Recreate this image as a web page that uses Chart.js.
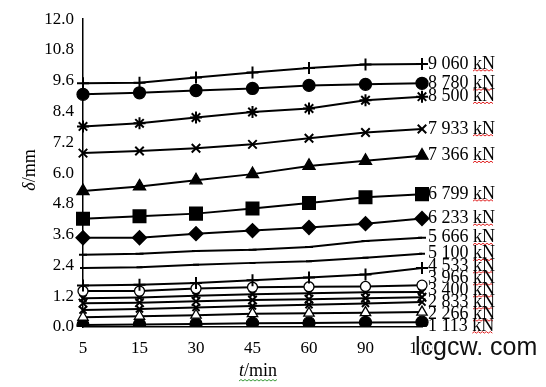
<!DOCTYPE html>
<html>
<head>
<meta charset="utf-8">
<script src="https://cdn.jsdelivr.net/npm/chart.js@4/dist/chart.umd.min.js"></script>
<style>
    html, body { margin: 0; padding: 0; background: #fff; }
    #wrap { width: 546px; height: 387px; position: relative; }
</style>
</head>
<body>
<div id="wrap"><canvas id="creepChart"></canvas></div>
<script>
const times = ['5', '15', '30', '45', '60', '90', '120'];
const yTicks = [0, 1.2, 2.4, 3.6, 4.8, 6.0, 7.2, 8.4, 9.6, 10.8, 12.0];

const d9060 = [9.5, 9.52, 9.73, 9.92, 10.1, 10.23, 10.25];
const d8780 = [9.07, 9.13, 9.22, 9.3, 9.42, 9.46, 9.5];
const d8500 = [7.82, 7.94, 8.17, 8.38, 8.52, 8.84, 8.98];
const d7933 = [6.78, 6.86, 6.97, 7.12, 7.36, 7.58, 7.72];
const d7366 = [5.3, 5.48, 5.72, 5.96, 6.28, 6.48, 6.68];
const d6799 = [4.22, 4.32, 4.42, 4.62, 4.83, 5.06, 5.18];
const d6233 = [3.48, 3.48, 3.64, 3.76, 3.88, 4.03, 4.23];
const d5666 = [2.82, 2.86, 2.96, 3.01, 3.12, 3.35, 3.48];
const d5100 = [2.3, 2.33, 2.43, 2.5, 2.56, 2.7, 2.86];
const d4533 = [1.62, 1.65, 1.72, 1.82, 1.93, 2.05, 2.3];
const d3966 = [1.4, 1.4, 1.5, 1.55, 1.57, 1.58, 1.63];
const d3400 = [1.12, 1.15, 1.22, 1.28, 1.32, 1.35, 1.36];
const d2833 = [0.93, 0.95, 1.0, 1.05, 1.08, 1.12, 1.16];
const dUnlabeled = [0.66, 0.7, 0.76, 0.82, 0.87, 0.92, 0.97];
const d2266 = [0.38, 0.42, 0.46, 0.52, 0.54, 0.56, 0.58];
const d1113 = [0.08, 0.1, 0.12, 0.15, 0.16, 0.18, 0.19];

const loads = ['9 060', '8 780', '8 500', '7 933', '7 366', '6 799', '6 233', '5 666',
    '5 100', '4 533', '3 966', '3 400', '2 833', '', '2 266', '1 113'];
const series = [d9060, d8780, d8500, d7933, d7366, d6799, d6233, d5666,
    d5100, d4533, d3966, d3400, d2833, dUnlabeled, d2266, d1113];

// marker per series: [pointStyle, radius, filled]
const markers = [
    ['cross', 6, true], ['circle', 6, true], ['star', 6, true], ['crossRot', 6, true],
    ['triangle', 7, true], ['rect', 8.5, true], ['rectRot', 6.5, true], ['line', 4, true],
    ['line', 3, true], ['cross', 6, true], ['circle', 5, false], ['crossRot', 5, true],
    ['crossRot', 6, true], ['crossRot', 5, true], ['triangle', 6, false], ['circle', 6, true]
];

const serif = '"Liberation Serif", "Times New Roman", serif';

const datasets = series.map((data, i) => ({
    label: loads[i],
    data: data,
    borderColor: '#000',
    borderWidth: 2,
    pointStyle: markers[i][0],
    pointRadius: markers[i][1],
    pointBorderWidth: markers[i][0] === 'circle' || markers[i][0] === 'triangle' ? 1.3 : 2,
    pointBackgroundColor: markers[i][2] ? '#000' : '#fff',
    pointBorderColor: '#000',
    tension: 0
}));

function wavy(ctx, x0, x1, y, color) {
    ctx.save();
    ctx.strokeStyle = color;
    ctx.lineWidth = 1;
    ctx.beginPath();
    let up = true;
    ctx.moveTo(x0, y);
    for (let x = x0 + 2; x <= x1; x += 2) {
        ctx.lineTo(x, up ? y - 1.5 : y);
        up = !up;
    }
    ctx.stroke();
    ctx.restore();
}

function spread(items, gap) {
    items.sort((a, b) => a.t - b.t);
    let groups = items.map(it => ({ items: [it], top: it.t }));
    let merged = true;
    while (merged) {
        merged = false;
        for (let i = 0; i < groups.length - 1; i++) {
            const a = groups[i], b = groups[i + 1];
            if (a.top + a.items.length * gap > b.top) {
                const all = a.items.concat(b.items);
                const mean = all.reduce((s, it) => s + it.t, 0) / all.length;
                groups.splice(i, 2, { items: all, top: mean - (all.length - 1) * gap / 2 });
                merged = true;
                break;
            }
        }
    }
    groups.forEach(g => g.items.forEach((it, k) => { it.y = g.top + k * gap; }));
}

function mixed(ctx, parts, cx, y, size) {
    // parts: [text, italic]
    const widths = parts.map(p => {
        ctx.font = (p[1] ? 'italic ' : '') + size + 'px ' + serif;
        return ctx.measureText(p[0]).width;
    });
    const total = widths.reduce((a, b) => a + b, 0);
    let x = cx - total / 2;
    parts.forEach((p, i) => {
        ctx.font = (p[1] ? 'italic ' : '') + size + 'px ' + serif;
        ctx.fillText(p[0], x, y);
        x += widths[i];
    });
    return total;
}

const endLabels = {
    id: 'endLabels',
    afterDatasetsDraw(chart) {
        const ctx = chart.ctx;
        const items = [];
        chart.data.datasets.forEach((ds, i) => {
            if (!ds.label) return;
            const pts = chart.getDatasetMeta(i).data;
            const last = pts[pts.length - 1];
            items.push({ t: last.y, text: ds.label });
        });
        spread(items, 12);
        const x = chart.chartArea.right + 6;
        ctx.save();
        ctx.font = '18px ' + serif;
        ctx.fillStyle = '#000';
        ctx.textBaseline = 'middle';
        ctx.textAlign = 'left';
        items.forEach(it => {
            const head = it.text + ' ';
            ctx.fillText(head + 'kN', x, it.y);
            const w1 = ctx.measureText(head).width;
            const w2 = ctx.measureText('kN').width;
            wavy(ctx, x + w1, x + w1 + w2, it.y + 7, '#e02020');
        });

        // axis titles
        const tw = mixed(ctx, [['t', true], ['/min', false]], 258, 371, 18);
        wavy(ctx, 258 - tw / 2, 258 + tw / 2, 381, '#3a9a3a');

        ctx.translate(30, 170);
        ctx.rotate(-Math.PI / 2);
        mixed(ctx, [['δ', true], ['/mm', false]], 0, 0, 18);
        ctx.restore();

        // site mark
        ctx.save();
        ctx.font = '25px "Liberation Sans", Arial, sans-serif';
        ctx.textBaseline = 'alphabetic';
        ctx.lineWidth = 3;
        ctx.strokeStyle = '#fff';
        ctx.strokeText('lcgcw. com', 415, 355);
        ctx.fillStyle = '#111';
        ctx.fillText('lcgcw. com', 415, 355);
        ctx.restore();
    }
};

new Chart(document.getElementById('creepChart'), {
    type: 'line',
    data: { labels: times, datasets: datasets },
    options: {
        responsive: true,
        maintainAspectRatio: false,
        animation: false,
        layout: { padding: { top: 15, right: 124, left: 0, bottom: 0 } },
        plugins: {
            legend: { display: false },
            tooltip: { enabled: false }
        },
        scales: {
            x: {
                type: 'category',
                offset: false,
                grid: { display: false, drawTicks: false },
                border: { display: true, color: '#000', width: 1.5 },
                ticks: { color: '#000', font: { family: serif, size: 17 }, padding: 11, maxRotation: 0 },
                afterFit(scale) { scale.height = 60; }
            },
            y: {
                min: 0,
                max: 12,
                grid: { display: false, drawTicks: false },
                border: { display: true, color: '#000', width: 1.5 },
                afterBuildTicks(scale) { scale.ticks = yTicks.map(v => ({ value: v })); },
                ticks: {
                    color: '#000',
                    font: { family: serif, size: 17 },
                    padding: 9,
                    callback: v => Number(v).toFixed(1)
                },
                afterFit(scale) { scale.width = 83; }
            }
        }
    },
    plugins: [endLabels]
});
</script>
</body>
</html>
